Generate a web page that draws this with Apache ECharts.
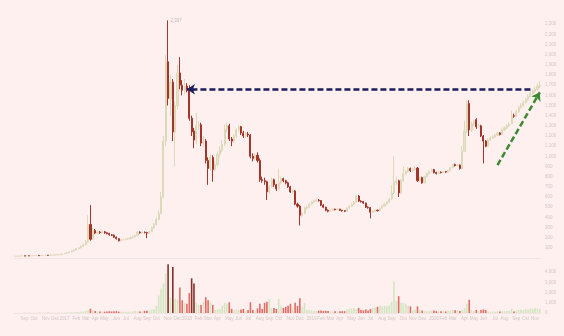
<!DOCTYPE html>
<html>
<head>
<meta charset="utf-8">
<script src="https://cdn.jsdelivr.net/npm/echarts@6/dist/echarts.min.js"></script>
<style>
html,body{margin:0;padding:0;background:#fdf0ef;}
#c{width:564px;height:336px;}
</style>
</head>
<body>
<div id="c"></div>
<script>
// weekly candles: [open, close, low, high]
const candles = [
[17,18,16,19],[18,19,17,20],[19,20,18,21],[20,21,19,22],[21,20,19,22],[20,22,19,23],[22,21,20,23],[21,22,20,24],[22,23,21,25],[23,24,22,25],
[24,23,22,26],[23,25,22,27],[25,26,24,28],[26,27,25,29],[27,26,25,29],[26,28,25,30],[28,29,27,31],[29,31,28,33],[31,33,30,35],[33,35,32,38],
[35,40,34,43],[40,46,38,50],[46,52,44,56],[52,60,50,64],[60,70,57,75],[70,80,66,86],[80,92,76,98],[92,100,88,108],[100,115,96,122],[115,130,110,140],
[130,160,125,175],[160,330,150,420],[330,185,170,520],[185,270,175,300],[270,245,235,285],[245,255,230,270],[255,250,238,265],[250,258,240,270],[258,248,238,266],[248,240,232,256],
[240,228,220,248],[228,225,215,236],[225,205,198,232],[205,190,182,212],[190,170,162,196],[170,178,165,185],[178,180,172,188],[180,185,175,192],[185,190,180,198],[190,200,185,208],
[200,210,194,218],[210,220,205,230],[220,255,215,265],[255,248,240,262],[248,252,240,260],[252,250,242,262],[250,245,195,258],[245,260,238,270],[260,300,255,310],[300,330,290,345],
[330,380,320,400],[380,440,370,470],[440,600,430,650],[600,1150,590,1200],[1150,1930,1100,2000],[1930,1570,1500,2337],[1570,1730,1400,1800],[1730,1240,1150,1760],[1240,1500,900,1540],[1500,1820,1460,1900],
[1820,1700,1660,1975],[1700,1650,1600,1750],[1650,1690,1610,1760],[1690,1660,1630,1720],[1660,1375,1350,1700],[1375,1240,1200,1400],[1250,1160,1080,1280],[1160,1300,1120,1430],[1300,1310,1260,1350],[1310,1130,1100,1330],
[1130,1150,1090,1200],[1150,960,930,1170],[960,880,720,990],[880,990,860,1020],[990,870,750,1010],[870,920,850,950],[920,1020,900,1050],[1020,1060,990,1100],[1060,1120,1040,1160],[1120,1270,1100,1310],
[1270,1300,1240,1330],[1300,1170,1150,1320],[1170,1150,1100,1190],[1150,1200,1130,1220],[1200,1260,1180,1280],[1260,1290,1240,1310],[1290,1230,1210,1300],[1230,1200,1180,1250],[1200,1220,1180,1240],[1220,1210,1190,1240],
[1210,1000,980,1220],[1000,980,950,1030],[980,1010,960,1030],[1010,960,940,1040],[960,770,750,980],[770,760,740,800],[760,750,720,790],[750,650,570,760],[650,700,630,720],[700,770,690,790],
[770,720,700,780],[720,680,660,730],[680,740,670,880],[740,780,730,800],[780,760,745,790],[760,740,725,770],[740,700,690,750],[700,650,640,710],[650,660,630,680],[660,530,520,670],
[530,510,495,545],[510,420,320,520],[420,440,400,460],[440,490,430,505],[490,500,480,515],[500,530,490,545],[530,550,520,560],[550,560,540,575],[560,570,550,585],[570,565,555,580],
[565,520,510,570],[520,500,490,530],[500,470,460,505],[470,460,450,478],[460,470,452,478],[470,480,462,488],[480,475,468,486],[475,480,468,488],[480,470,462,485],[470,465,456,475],
[465,460,452,470],[460,490,455,498],[490,510,485,518],[510,530,502,538],[530,550,522,560],[550,610,545,625],[610,560,550,620],[560,555,545,568],[555,540,532,562],[540,500,492,545],
[500,495,485,508],[495,450,390,500],[450,460,440,470],[460,470,452,478],[470,465,458,476],[465,490,460,498],[490,510,485,518],[510,530,505,540],[530,550,522,560],[550,580,545,592],
[580,640,570,720],[640,750,630,1000],[750,760,720,800],[760,640,600,770],[640,760,630,780],[760,830,750,900],[830,850,815,870],[850,880,840,895],[880,860,845,890],[860,870,850,885],
[870,885,860,900],[885,760,750,895],[760,790,748,800],[790,740,730,800],[740,800,735,812],[800,830,792,842],[830,850,822,862],[850,870,842,882],[870,840,832,876],[840,830,822,848],
[830,845,824,852],[845,840,832,852],[840,850,834,858],[850,845,838,856],[845,860,840,868],[860,890,855,900],[890,920,882,930],[920,910,900,928],[910,915,902,925],[915,880,870,920],
[880,1050,870,1100],[1050,1250,1040,1350],[1250,1520,1230,1552],[1520,1260,1200,1552],[1260,1320,1240,1340],[1320,1340,1300,1360],[1360,1290,1270,1375],[1290,1300,1275,1320],[1300,1200,1190,1310],[1200,1150,930,1210],
[1150,1100,1090,1160],[1100,1160,1095,1175],[1160,1180,1150,1195],[1180,1190,1170,1205],[1190,1210,1180,1222],[1210,1230,1200,1240],[1230,1215,1205,1238],[1215,1260,1210,1272],[1260,1280,1250,1295],[1280,1300,1270,1318],
[1300,1320,1290,1336],[1320,1400,1315,1450],[1400,1395,1380,1420],[1395,1440,1390,1460],[1440,1480,1430,1500],[1480,1500,1470,1520],[1500,1530,1490,1550],[1530,1560,1520,1578],[1560,1590,1550,1610],[1590,1620,1578,1640],
[1620,1640,1605,1660],[1640,1660,1625,1685],[1660,1690,1645,1715],[1690,1700,1670,1740]
];

const volumes = [
10,12,10,14,12,15,13,16,15,18, 17,20,18,22,20,24,25,28,30,35,
40,45,50,60,70,80,90,110,130,160, 220,330,420,260,200,180,150,140,130,150,
170,150,160,180,140,120,110,110,120,130, 150,220,180,150,160,200,220,260,320,400,
700,1700,2400,2900,3900,4780,1500,4500,1400,1300, 2500,1250,1000,900,1950,3400,2900,1000,800,780,
1100,1550,1250,1050,780,300,350,400,700,1000, 900,1050,400,250,350,300,350,400,250,300,
1050,300,250,450,900,400,1000,1100,1400,500, 500,400,1400,700,500,600,700,900,500,1000,
700,1450,600,1000,300,280,250,220,200,220, 250,200,230,200,180,160,170,150,160,170,
180,350,400,450,500,400,500,300,250,350, 250,400,500,550,600,700,650,700,650,750,
1100,3100,1200,1650,1000,1000,900,700,650,300, 350,650,300,250,200,180,200,220,250,180,
150,170,160,150,200,250,300,280,250,200, 300,500,900,1300,300,200,300,200,300,350,
300,150,120,150,130,170,150,200,180,200, 220,400,150,250,300,350,300,400,350,450,
400,500,450,400
];

const priceTicks = { min: 0, max: 2400, step: 100 };
const volumeTicks = { min: 0, max: 5000, step: 1000 };
const monthNames = ['Jan','Feb','Mar','Apr','May','Jun','Jul','Aug','Sep','Oct','Nov','Dec'];
const startWeek = [2016, 7, 8];

// reference lines (category index, price)
const resistanceFrom = [219, 1660];
const resistanceTo = [73, 1660];
const trendFrom = [205, 913];
const trendTo = [223, 1630];

const dates = [];
{
  const d0 = Date.UTC(startWeek[0], startWeek[1], startWeek[2]);
  for (let i = 0; i < candles.length; i++) {
    const d = new Date(d0 + i * 7 * 86400000);
    dates.push(d.getUTCFullYear() + '-' + (d.getUTCMonth() + 1) + '-' + d.getUTCDate());
  }
}
function isMonthStart(idx) {
  const p = dates[idx].split('-');
  return +p[2] <= 7;
}
function monthLabel(v) {
  const p = v.split('-');
  const m = +p[1] - 1;
  return m === 0 ? p[0] : monthNames[m];
}

const UP = '#e6e2c8', DOWN = '#a3352d';
const VOL_UP = '#d3e5c2', VOL_DOWN = '#e26a64', VOL_DARK = '#86302a';
const txt = '#d2c5c5';

const chart = echarts.init(document.getElementById('c'), null, { renderer: 'canvas' });
chart.setOption({
  backgroundColor: '#fdf0ef',
  animation: false,
  grid: [
    { left: 14, right: 23, top: 14, bottom: 78 },
    { left: 14, right: 23, top: 262, bottom: 23 }
  ],
  xAxis: [
    { type: 'category', gridIndex: 0, data: dates, boundaryGap: true,
      axisLine: { lineStyle: { color: '#f3e3e2' } }, axisTick: { show: false }, axisLabel: { show: false } },
    { type: 'category', gridIndex: 1, data: dates, boundaryGap: true,
      axisLine: { lineStyle: { color: '#f3e3e2' } }, axisTick: { show: false },
      axisLabel: { fontSize: 4.5, color: txt, margin: 3, interval: (i) => isMonthStart(i), formatter: monthLabel } }
  ],
  yAxis: [
    { type: 'value', gridIndex: 0, position: 'right', min: priceTicks.min, max: priceTicks.max, interval: priceTicks.step,
      axisLine: { show: false }, axisTick: { show: false }, splitLine: { show: false },
      axisLabel: { fontSize: 4.5, color: txt, margin: 4, showMinLabel: false, showMaxLabel: false } },
    { type: 'value', gridIndex: 1, position: 'right', min: volumeTicks.min, max: volumeTicks.max, interval: volumeTicks.step,
      axisLine: { show: false }, axisTick: { show: false }, splitLine: { show: false },
      axisLabel: { fontSize: 4.5, color: txt, margin: 4, showMaxLabel: false } }
  ],
  series: [
    {
      type: 'candlestick', xAxisIndex: 0, yAxisIndex: 0, data: candles, barWidth: 1.6,
      itemStyle: { color: UP, color0: DOWN, borderColor: '#ddd8b8', borderColor0: DOWN, borderWidth: 1 },
      markPoint: {
        symbol: 'circle', symbolSize: 1, itemStyle: { color: 'rgba(0,0,0,0)' },
        label: { show: true, position: 'right', distance: 2, fontSize: 4.5, color: '#c4b4b4',
          formatter: (p) => echarts.format.addCommas(p.value) },
        data: [{ type: 'max', valueDim: 'highest' }]
      },
      markLine: {
        silent: true, animation: false, label: { show: false },
        data: [
          [ { coord: resistanceFrom, symbol: 'none', lineStyle: { color: '#1c1d5c', width: 2.5, type: [6, 3] } },
            { coord: resistanceTo, symbol: 'arrow', symbolSize: 8 } ],
          [ { coord: trendFrom, symbol: 'none', lineStyle: { color: '#3d8a2e', width: 2.5, type: [6, 3] } },
            { coord: trendTo, symbol: 'arrow', symbolSize: 8 } ]
        ]
      }
    },
    {
      type: 'bar', xAxisIndex: 1, yAxisIndex: 1, barWidth: 1.6,
      data: volumes.map((v, i) => {
        const c = candles[i];
        let col = VOL_UP;
        if (c[1] < c[0]) col = v >= 2700 ? VOL_DARK : VOL_DOWN;
        return { value: v, itemStyle: { color: col } };
      })
    }
  ]
});
</script>
</body>
</html>
